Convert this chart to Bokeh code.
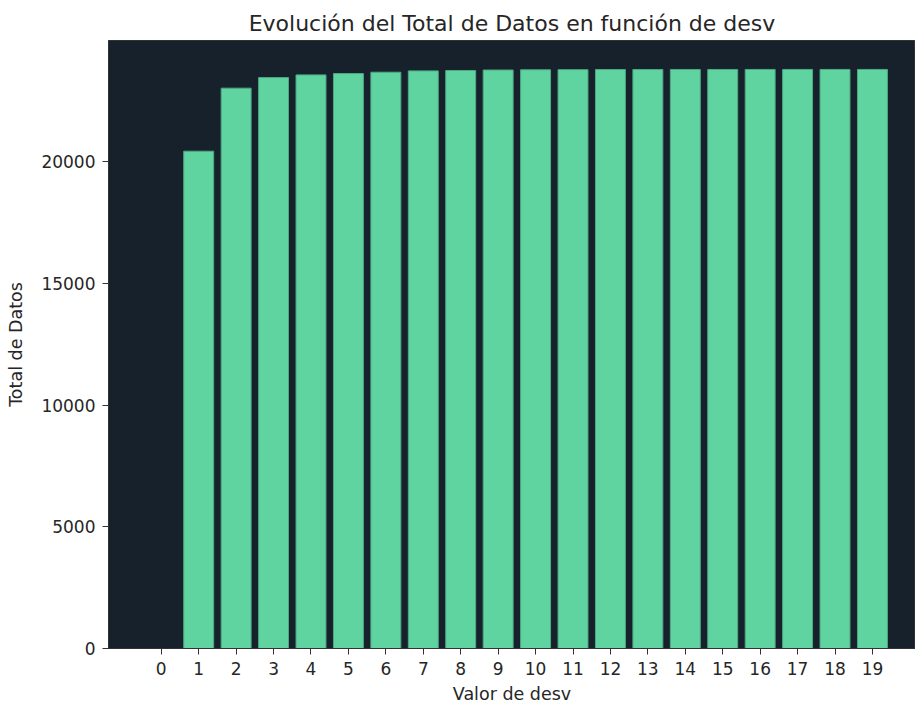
from bokeh.plotting import figure
from bokeh.models import FixedTicker, Range1d, ColumnDataSource
from bokeh.embed import file_html
from bokeh.resources import INLINE

desv = list(range(20))
total = [0, 20430, 23020, 23455, 23565, 23620, 23675, 23730, 23745, 23765,
         23775, 23780, 23785, 23785, 23788, 23788, 23789, 23789, 23789, 23789]
x_ticks = list(range(20))
y_ticks = [0, 5000, 10000, 15000, 20000]

src = ColumnDataSource(data=dict(x=desv, top=total))

p = figure(width=915, height=707, output_backend="svg", toolbar_location=None,
           title="Evolución del Total de Datos en función de desv",
           x_range=Range1d(-1.41, 20.15), y_range=Range1d(0, 24978),
           min_border_left=108, min_border_top=40, min_border_right=0, min_border_bottom=59)

p.background_fill_color = "#16212b"
p.border_fill_color = "white"
p.outline_line_color = "#333333"
p.outline_line_width = 1

p.vbar(x="x", top="top", width=0.8, bottom=0, source=src,
       fill_color="#5fd3a0", line_color="#4ea983", line_width=1)

p.title.align = "center"
p.title.text_font = "DejaVu Sans"
p.title.text_font_size = "22px"
p.title.text_font_style = "normal"
p.title.text_color = "#262626"
p.title.offset = 0

for ax in (p.xaxis, p.yaxis):
    ax.axis_label_text_font = "DejaVu Sans"
    ax.axis_label_text_font_size = "17.5px"
    ax.axis_label_text_font_style = "normal"
    ax.axis_label_text_color = "#262626"
    ax.major_label_text_font = "DejaVu Sans"
    ax.major_label_text_font_size = "17px"
    ax.major_label_text_color = "#262626"
    ax.minor_tick_line_color = None
    ax.major_tick_line_color = "#333333"
    ax.major_tick_out = 6
    ax.major_tick_in = 0
    ax.axis_line_color = "#333333"
    ax.major_label_standoff = 7

p.xaxis.axis_label = "Valor de desv"
p.yaxis.axis_label = "Total de Datos"
p.xaxis.ticker = FixedTicker(ticks=x_ticks)
p.yaxis.ticker = FixedTicker(ticks=y_ticks)
p.xaxis.axis_label_standoff = 6
p.yaxis.axis_label_standoff = 12
p.xgrid.grid_line_color = None
p.ygrid.grid_line_color = None

open("out.html", "w").write(file_html(p, INLINE))
